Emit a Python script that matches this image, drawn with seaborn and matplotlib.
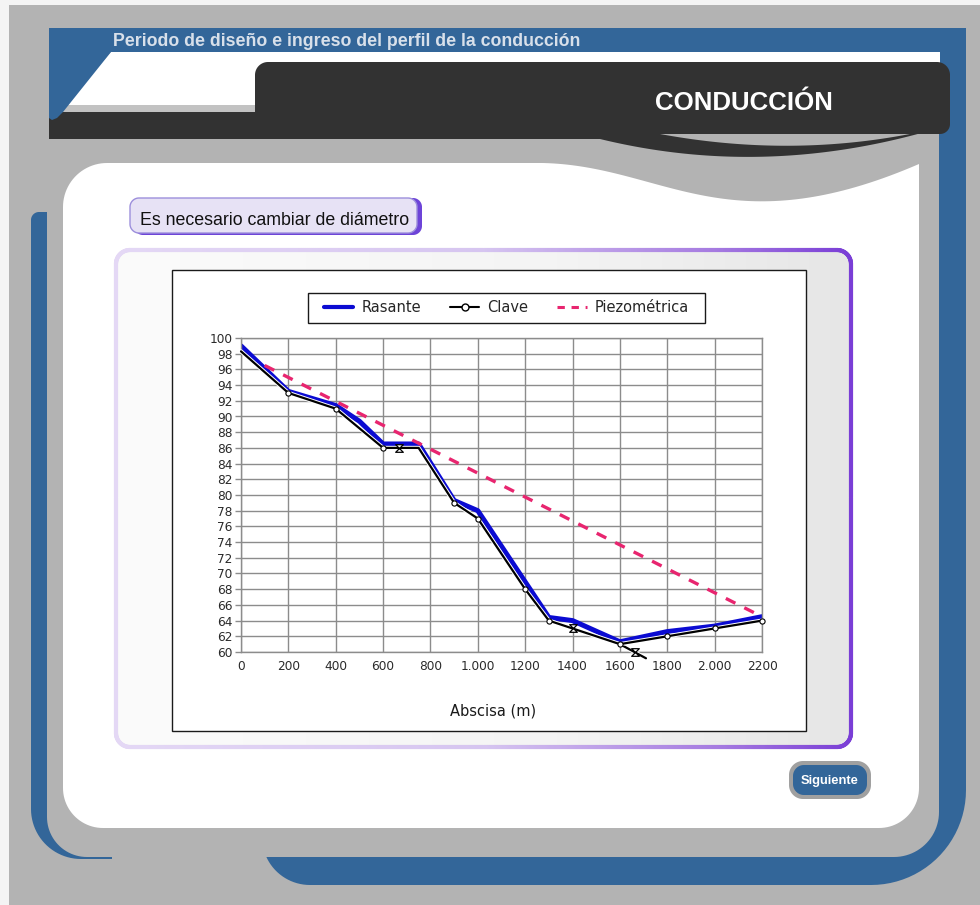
import numpy as np
import matplotlib
matplotlib.use("Agg")
import matplotlib.pyplot as plt
import seaborn as sns
from matplotlib.patches import Polygon, Rectangle
from matplotlib.path import Path
from matplotlib.markers import MarkerStyle
from matplotlib.lines import Line2D
from matplotlib.collections import LineCollection
from matplotlib.colors import LinearSegmentedColormap
import matplotlib.patheffects as pe

# ---------------- profile data (abscissa in m, elevation in m) ----------------
rasante_x = [0, 200, 400, 500, 600, 750, 900, 1000, 1300, 1400, 1600, 1800, 2000, 2200]
rasante_y = [99.0, 93.2, 91.4, 89.4, 86.5, 86.5, 79.3, 78.0, 64.4, 64.0, 61.3, 62.6, 63.3, 64.5]

clave_x = [0, 200, 400, 600, 750, 900, 1000, 1200, 1300, 1400, 1600, 1710]
clave_y = [98.3, 93.0, 91.0, 86.0, 86.0, 79.0, 77.0, 68.0, 64.0, 63.0, 61.0, 59.2]
clave_ramal_x = [1600, 1800, 2000, 2200]
clave_ramal_y = [61.0, 62.0, 63.0, 64.0]

nodos_x = [200, 400, 600, 900, 1000, 1200, 1300, 1600, 1800, 2000, 2200]
nodos_y = [93.0, 91.0, 86.0, 79.0, 77.0, 68.0, 64.0, 61.0, 62.0, 63.0, 64.0]

valvulas_x = [667, 1400, 1664]
valvulas_y = [86.0, 63.0, 60.0]

piezo_x = [100, 2200]
piezo_y = [96.5, 64.5]

x_ticks = [0, 200, 400, 600, 800, 1000, 1200, 1400, 1600, 1800, 2000, 2200]
x_tick_labels = ["0", "200", "400", "600", "800", "1.000", "1200", "1400",
                 "1600", "1800", "2.000", "2200"]
y_ticks = [60, 62, 64, 66, 68, 70, 72, 74, 76, 78, 80, 82, 84, 86, 88, 90,
           92, 94, 96, 98, 100]
series_labels = ["Rasante", "Clave", "Piezométrica"]

# ---------------- style ----------------
sns.set_theme(style="white")
plt.rcParams["font.family"] = ["DejaVu Sans"]

W, H = 980, 905
GRAY = "#b3b3b3"
BLUE = "#336699"
DARK = "#323232"
LINE_BLUE = "#0b0bd2"
PINK = "#e8256f"
UI_FONT = ["Liberation Sans", "DejaVu Sans"]

fig = plt.figure(figsize=(W / 100, H / 100), dpi=100, facecolor=GRAY)
bg = fig.add_axes([0, 0, 1, 1])
bg.set_xlim(0, W)
bg.set_ylim(H, 0)
bg.axis("off")


def rounded(x0, y0, x1, y1, tl=0, tr=0, br=0, bl=0, n=24):
    """Vertices of a box (y grows downwards) with individually rounded corners."""
    pts = []

    def corner(cx, cy, r, a0, a1, px, py):
        if r <= 0:
            pts.append((px, py))
            return
        t = np.radians(np.linspace(a0, a1, n))
        pts.extend(zip(cx + r * np.cos(t), cy + r * np.sin(t)))

    corner(x0 + tl, y0 + tl, tl, 180, 270, x0, y0)
    corner(x1 - tr, y0 + tr, tr, 270, 360, x1, y0)
    corner(x1 - br, y1 - br, br, 0, 90, x1, y1)
    corner(x0 + bl, y1 - bl, bl, 90, 180, x0, y1)
    return pts


def bezier(ctrl, n=80):
    ctrl = np.asarray(ctrl, float)
    t = np.linspace(0, 1, n)[:, None]
    pts = ctrl.copy()
    out = []
    for tt in t[:, 0]:
        p = ctrl.copy()
        while len(p) > 1:
            p = (1 - tt) * p[:-1] + tt * p[1:]
        out.append(tuple(p[0]))
    return out


def shape(verts, color, z, **kw):
    p = Polygon(verts, closed=True, facecolor=color, edgecolor="none", zorder=z, **kw)
    bg.add_patch(p)
    return p


def densify(verts, step=2.0):
    v = np.asarray(list(verts) + [verts[0]], float)
    out = []
    for a, b in zip(v[:-1], v[1:]):
        k = max(int(np.hypot(*(b - a)) / step), 1)
        t = np.linspace(0, 1, k, endpoint=False)[:, None]
        out.append(a + (b - a) * t)
    out.append(v[-1:])
    return np.vstack(out)


def gradient_edge(verts, cmap, x0, x1, lw, z):
    pts = densify(verts)
    segs = np.stack([pts[:-1], pts[1:]], axis=1)
    mid = segs[:, :, 0].mean(axis=1)
    lc = LineCollection(segs, colors=cmap(np.clip((mid - x0) / (x1 - x0), 0, 1)),
                        linewidths=lw, capstyle="round", zorder=z)
    bg.add_collection(lc)


# ---------------- page frame ----------------
bg.add_patch(Rectangle((0, 0), W, 5, facecolor="#f4f4f4", edgecolor="none", zorder=1))
bg.add_patch(Rectangle((0, 0), 9, H, facecolor="#f4f4f4", edgecolor="none", zorder=1))

bg.add_patch(Rectangle((49, 28), 966 - 49, 24, facecolor=BLUE, edgecolor="none", zorder=2))
shape(rounded(262, 28, 966, 885, br=95, bl=48), BLUE, 2)
shape(rounded(31, 212, 112, 859, tl=8, bl=50), BLUE, 2)
shape(rounded(47, 52, 939, 857, bl=40, br=45), GRAY, 3)

# header strip
shape([(111, 52), (940, 52), (940, 106), (64, 106)], "white", 4)
bg.add_patch(Rectangle((58, 105), 200, 7, facecolor="#c2c2c2", edgecolor="none", zorder=4))

# white content sheet with the grey wave at the top right
shape(rounded(63, 163, 919, 828, tl=44, bl=40, br=40), "white", 4)
wave = bezier([(530, 163), (660, 160), (720, 250), (919, 164)])
shape([(530, 150)] + wave + [(925, 164), (925, 150)], GRAY, 5)

# dark title band
bg.add_patch(Rectangle((49, 112), 660 - 49, 27, facecolor=DARK, edgecolor="none", zorder=6))
shape(rounded(255, 62, 950, 134, tl=13, tr=13, br=10), DARK, 6)
lower = bezier([(600, 139), (760, 178), (925, 132)])
upper = bezier([(660, 134), (790, 158), (915, 133)])
shape(lower + upper[::-1] + [(600, 134)], DARK, 6)
shape([(49, 52), (111, 52), (63, 112), (57, 118), (52, 120), (49, 118)], BLUE, 7)

t_head = bg.text(113, 46, "Periodo de diseño e ingreso del perfil de la conducción",
                 color="#d8e0ea", fontweight="bold", family=UI_FONT, fontsize=11,
                 va="baseline", ha="left", zorder=8)
t_cond = bg.text(655, 110, "CONDUCCIÓN", color="white", fontweight="bold",
                 family=UI_FONT, fontsize=18, va="baseline", ha="left", zorder=8)

# ---------------- message tag ----------------
shape(rounded(134, 198, 422, 235, tl=9, tr=9, br=9, bl=9), "#6d44d8", 9)
bg.add_patch(Polygon(rounded(130, 198, 417, 233, tl=9, tr=9, br=9, bl=9), closed=True,
                     facecolor="#e7e2f5", edgecolor="#9d8fdc", lw=1.0, zorder=9.5))
t_msg = bg.text(140, 225, "Es necesario cambiar de diámetro", color="#111111",
                family=UI_FONT, fontsize=13, va="baseline", ha="left", zorder=10)

# ---------------- purple-framed panel ----------------
panel = rounded(116, 250, 851, 747, tl=14, tr=14, br=14, bl=14)
panel_patch = Polygon(panel, closed=True, facecolor="none", edgecolor="none", zorder=10)
bg.add_patch(panel_patch)
fill_cmap = LinearSegmentedColormap.from_list(
    "panel_fill", [(0, "#fbfbfb"), (0.6, "#f4f4f4"), (1, "#e6e6e6")])
im = bg.imshow(np.linspace(0, 1, 256)[None, :], extent=(116, 851, 747, 250),
               cmap=fill_cmap, aspect="auto", zorder=10, interpolation="bilinear")
im.set_clip_path(panel_patch)
edge_cmap = LinearSegmentedColormap.from_list(
    "panel_edge", [(0, "#e4d8f5"), (0.5, "#d6c5f0"), (0.82, "#a57ae0"), (1, "#7a3ed6")])
gradient_edge(panel, edge_cmap, 116, 851, 3.0, 10.5)

# chart frame and legend box
bg.add_patch(Rectangle((172, 270), 806 - 172, 731 - 270, facecolor="white",
                       edgecolor="#1a1a1a", lw=1.0, zorder=11))
bg.add_patch(Rectangle((308, 293), 705 - 308, 323 - 293, facecolor="white",
                       edgecolor="#1a1a1a", lw=1.0, zorder=12))

# ---------------- "Siguiente" button ----------------
shape(rounded(789, 761, 871, 799, tl=14, tr=14, br=14, bl=14), "#a0a0a0", 11)
shape(rounded(793, 765, 867, 795, tl=11, tr=11, br=11, bl=11), BLUE, 12)
t_btn = bg.text(830, 784, "Siguiente", color="white", fontweight="bold",
                family=UI_FONT, fontsize=9.5, va="baseline", ha="center", zorder=13)

bg.set_xlim(0, W)
bg.set_ylim(H, 0)

# size the interface texts to their boxes
renderer = fig.canvas.get_renderer()
for txt, width in [(t_head, 470), (t_cond, 178), (t_msg, 270), (t_btn, 58)]:
    bb = txt.get_window_extent(renderer)
    txt.set_fontsize(txt.get_fontsize() * width / bb.width)

# ---------------- profile chart ----------------
ax = fig.add_axes([241 / W, 1 - 652 / H, 521 / W, 314 / H])
ax.set_zorder(20)
ax.set_facecolor("white")

sns.lineplot(x=rasante_x, y=rasante_y, ax=ax, color=LINE_BLUE, lw=3.6,
             sort=False, estimator=None, zorder=2)
halo = [pe.Stroke(linewidth=3.0, foreground="white"), pe.Normal()]
sns.lineplot(x=clave_x, y=clave_y, ax=ax, color="black", lw=1.6, sort=False,
             estimator=None, clip_on=False, path_effects=halo, zorder=3)
sns.lineplot(x=clave_ramal_x, y=clave_ramal_y, ax=ax, color="black", lw=1.6,
             sort=False, estimator=None, clip_on=False, path_effects=halo, zorder=3)
sns.lineplot(x=piezo_x, y=piezo_y, ax=ax, color=PINK, lw=2.4, sort=False,
             estimator=None, linestyle=(0, (3.2, 3.0)), zorder=4)
sns.scatterplot(x=nodos_x, y=nodos_y, ax=ax, marker="o", s=14, color="white",
                edgecolor="black", linewidth=0.8, clip_on=False, zorder=5)
hourglass = MarkerStyle(Path([(-1, 1), (1, 1), (-1, -1), (1, -1), (-1, 1)],
                             [Path.MOVETO, Path.LINETO, Path.LINETO, Path.LINETO,
                              Path.CLOSEPOLY]))
sns.scatterplot(x=valvulas_x, y=valvulas_y, ax=ax, marker=hourglass, s=30,
                color="white", edgecolor="black", linewidth=0.9, clip_on=False,
                zorder=6)

ax.set_xlim(0, 2200)
ax.set_ylim(60, 100)
ax.set_xticks(x_ticks, labels=x_tick_labels)
ax.set_yticks(y_ticks)
ax.grid(True, color="#8c8c8c", lw=1.0)
ax.set_axisbelow(True)
for sp in ax.spines.values():
    sp.set_color("#8c8c8c")
    sp.set_linewidth(1.0)
ax.tick_params(axis="x", length=0, pad=6, labelsize=8.7, labelcolor="#2a2a2a")
ax.tick_params(axis="y", left=True, length=4, width=1.0, color="#8c8c8c", pad=2,
               labelsize=8.7, labelcolor="#2a2a2a")
ax.set_ylabel("")
ax.set_xlabel("Abscisa (m)", fontsize=10.5, color="#1a1a1a")
ax.xaxis.set_label_coords((493 - 241) / 521, (652 - 703) / 314)

handles = [
    Line2D([], [], color=LINE_BLUE, lw=3.0),
    Line2D([], [], color="black", lw=1.5, marker="o", ms=5, mfc="white", mec="black"),
    Line2D([], [], color=PINK, lw=2.2, linestyle=(0, (2.4, 2.2))),
]
ax.legend(handles, series_labels, loc="center",
          bbox_to_anchor=(((308 + 705) / 2) / W, 1 - 308 / H),
          bbox_transform=fig.transFigure, ncol=3, frameon=False, fontsize=10.5,
          handlelength=2.0, handletextpad=0.55, columnspacing=2.0, borderpad=0.2)

fig.savefig("out.png", dpi=100, facecolor=GRAY)
